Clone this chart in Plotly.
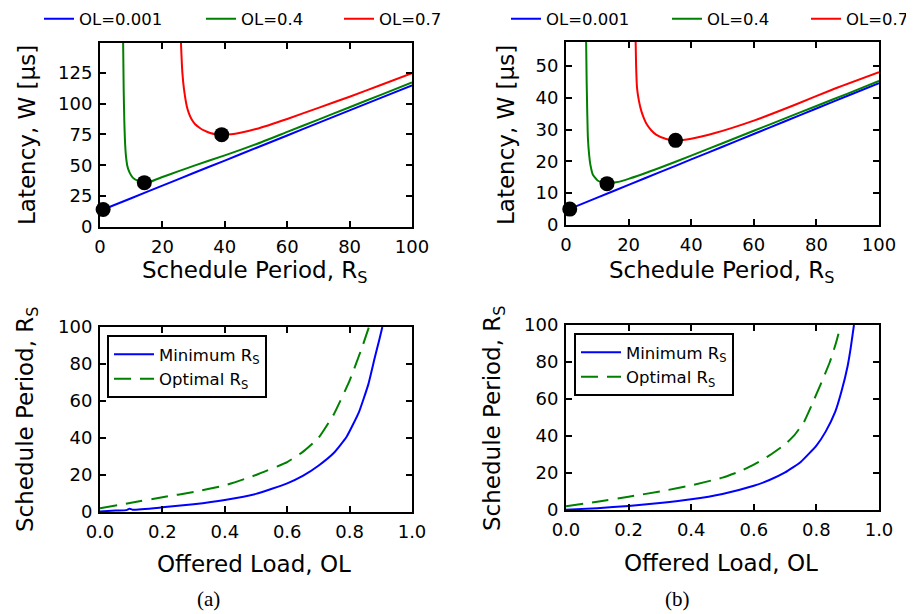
import plotly.graph_objects as go

# ---------------- data ----------------
# (a) top: latency W [us] vs schedule period R_S
a_blue_R = [1, 10, 20, 30, 40, 50, 60, 70, 80, 90, 100]
a_blue_W = [14.2, 23.3, 33.5, 43.7, 53.8, 64.0, 74.1, 84.3, 94.4, 104.6, 114.7]
a_green_R = [7.4, 7.6, 7.8, 8.0, 8.3, 8.8, 9.5, 10.5, 12, 14, 16, 20, 25, 30, 40, 50, 60, 70, 80, 90, 100]
a_green_W = [152, 110, 85, 70, 58, 49, 44, 40, 37.5, 36, 36.6, 40.5, 45, 49.5, 58, 67, 77, 87, 97, 107, 117]
a_red_R = [25.9, 26.1, 26.4, 26.9, 27.8, 28.5, 29.4, 30.5, 32, 33.5, 35.3, 37, 39, 42, 45, 50, 60, 70, 80, 90, 100]
a_red_W = [152, 140, 125, 112, 98, 92, 87, 83.2, 80.2, 78, 76.1, 75.2, 74.8, 75.1, 76.3, 79.3, 87.5, 96.5, 105.5, 115, 124.5]
a_opt_R = [1, 14.2, 39]
a_opt_W = [14.2, 35.9, 74.8]

# (b) top
b_blue_R = [1, 10, 20, 30, 40, 50, 60, 70, 80, 90, 100]
b_blue_W = [5.0, 8.6, 12.6, 16.6, 20.6, 24.6, 28.6, 32.6, 36.6, 40.6, 44.6]
b_green_R = [6.4, 6.6, 6.8, 7.0, 7.4, 7.8, 8.6, 10.2, 13.1, 16, 20, 30, 40, 50, 60, 70, 80, 90, 100]
b_green_W = [60, 45, 35, 27.3, 22, 18.9, 15.8, 13.9, 13.0, 13.4, 14.5, 18, 21.8, 25.7, 29.6, 33.5, 37.4, 41.3, 45.3]
b_red_R = [22.2, 22.4, 22.7, 23.3, 24.1, 25, 25.9, 27.3, 28.9, 32, 35, 40, 47.6, 60, 73.2, 85, 100]
b_red_W = [60, 50, 43, 39, 35.7, 33.3, 31.5, 29.7, 28.3, 27, 26.6, 27.1, 28.9, 32.8, 37.8, 42.5, 48.0]
b_opt_R = [1.2, 13.1, 35]
b_opt_W = [5.0, 13.0, 26.6]

# (a) bottom: schedule period vs offered load
a_min_OL = [0.0, 0.05, 0.085, 0.095, 0.105, 0.2, 0.3, 0.4, 0.5, 0.6, 0.65, 0.7, 0.75, 0.79, 0.83, 0.86, 0.88, 0.895, 0.905]
a_min_RS = [0.3, 0.8, 1.0, 1.8, 1.2, 2.5, 4.2, 6.5, 9.8, 15.5, 19.5, 25, 32, 40.5, 54, 69, 83, 93, 100]
a_optl_OL = [0.0, 0.1, 0.2, 0.3, 0.4, 0.5, 0.6, 0.65, 0.7, 0.75, 0.8, 0.84, 0.862]
a_optl_RS = [2, 5, 8, 10.8, 14.4, 20, 27, 32.5, 40, 53, 71, 89, 100]

# (b) bottom
b_min_OL = [0.0, 0.1, 0.2, 0.3, 0.4, 0.5, 0.6, 0.65, 0.7, 0.75, 0.8, 0.83, 0.86, 0.88, 0.9, 0.91, 0.92]
b_min_RS = [0.2, 1.0, 2.2, 3.8, 5.8, 8.7, 13.1, 16.2, 20.3, 26, 34.8, 42.5, 53, 64, 78, 88, 100]
b_optl_OL = [0.0, 0.1, 0.2, 0.3, 0.4, 0.5, 0.55, 0.6, 0.65, 0.7, 0.73, 0.76, 0.787, 0.815, 0.843, 0.862, 0.878]
b_optl_RS = [2, 4.5, 7.2, 10, 13.3, 17.5, 20.5, 24.5, 29.5, 35.5, 40.5, 47.5, 57.5, 68.5, 80, 90, 100]

series_names = ["OL=0.001", "OL=0.4", "OL=0.7"]
series_colors = ["#0000ff", "#008000", "#ff0000"]
bottom_names = ["Minimum R<sub>S</sub>", "Optimal R<sub>S</sub>"]

FONT = "DejaVu Sans"
# the page body has an 8px margin, so the figure is 906x606 drawn at (8, 8)
OFF = 8
W, H = 914 - OFF, 614 - OFF

def px_x(v):
    return (v - OFF) / W

def px_y(v):
    return 1 - (v - OFF) / H

fig = go.Figure()

def add_top(xs, ys, opt_x, opt_y, xa, ya, legs):
    for (x, y), name, col, leg in zip(zip(xs, ys), series_names, series_colors, legs):
        fig.add_trace(go.Scatter(x=x, y=y, mode="lines", name=name,
                                 line=dict(color=col, width=2, shape="spline", smoothing=0.5),
                                 xaxis=xa, yaxis=ya, legend=leg))
    fig.add_trace(go.Scatter(x=opt_x, y=opt_y, mode="markers", showlegend=False,
                             marker=dict(color="black", size=15),
                             cliponaxis=False, xaxis=xa, yaxis=ya))

add_top([a_blue_R, a_green_R, a_red_R], [a_blue_W, a_green_W, a_red_W],
        a_opt_R, a_opt_W, "x", "y", ["legend", "legend2", "legend3"])
add_top([b_blue_R, b_green_R, b_red_R], [b_blue_W, b_green_W, b_red_W],
        b_opt_R, b_opt_W, "x2", "y2", ["legend4", "legend5", "legend6"])

def add_bottom(mx, my, ox, oy, xa, ya, leg):
    fig.add_trace(go.Scatter(x=mx, y=my, mode="lines", name=bottom_names[0],
                             line=dict(color="#0000ff", width=2, shape="spline", smoothing=0.4),
                             xaxis=xa, yaxis=ya, legend=leg))
    fig.add_trace(go.Scatter(x=ox, y=oy, mode="lines", name=bottom_names[1],
                             line=dict(color="#008000", width=2, dash="17px,9px",
                                       shape="spline", smoothing=0.4),
                             xaxis=xa, yaxis=ya, legend=leg))

add_bottom(a_min_OL, a_min_RS, a_optl_OL, a_optl_RS, "x3", "y3", "legend7")
add_bottom(b_min_OL, b_min_RS, b_optl_OL, b_optl_RS, "x4", "y4", "legend8")

axis_common = dict(showline=True, linewidth=2, linecolor="black", mirror="allticks",
                   ticks="inside", ticklen=6, tickwidth=1.5, tickcolor="black",
                   showgrid=False, zeroline=False, automargin=False,
                   tickfont=dict(family=FONT, size=18, color="black"))
xax = dict(ticklabelstandoff=2, **axis_common)
yax = dict(ticklabelstandoff=2, **axis_common)

L_dom = [px_x(100), px_x(412)]
R_dom = [px_x(566), px_x(879)]

fig.update_layout(
    width=W, height=H, margin=dict(l=0, r=0, t=0, b=0, autoexpand=False),
    paper_bgcolor="white", plot_bgcolor="white",
    font=dict(family=FONT, color="black"),
    xaxis=dict(domain=L_dom, anchor="y", range=[0, 100], tickvals=[0, 20, 40, 60, 80, 100], **xax),
    yaxis=dict(domain=[px_y(227), px_y(43)], anchor="x", range=[0, 149],
               tickvals=[0, 25, 50, 75, 100, 125], **yax),
    xaxis2=dict(domain=R_dom, anchor="y2", range=[0, 100], tickvals=[0, 20, 40, 60, 80, 100], **xax),
    yaxis2=dict(domain=[px_y(225), px_y(42)], anchor="x2", range=[0, 57.5],
                tickvals=[0, 10, 20, 30, 40, 50], **yax),
    xaxis3=dict(domain=L_dom, anchor="y3", range=[0, 1], tickvals=[0, 0.2, 0.4, 0.6, 0.8, 1.0],
                tickformat=".1f", **xax),
    yaxis3=dict(domain=[px_y(512), px_y(327)], anchor="x3", range=[0, 100],
                tickvals=[0, 20, 40, 60, 80, 100], **yax),
    xaxis4=dict(domain=R_dom, anchor="y4", range=[0, 1], tickvals=[0, 0.2, 0.4, 0.6, 0.8, 1.0],
                tickformat=".1f", **xax),
    yaxis4=dict(domain=[px_y(510), px_y(325)], anchor="x4", range=[0, 100],
                tickvals=[0, 20, 40, 60, 80, 100], **yax),
)

# one legend per top entry so each sits where the reference has it
top_leg = dict(orientation="h", yanchor="middle", xanchor="left", y=px_y(19),
               font=dict(family=FONT, size=16.5, color="black"),
               bgcolor="rgba(0,0,0,0)", itemwidth=30)
top_leg_x = [39, 201, 339, 506, 667, 806]
fig.update_layout(**{("legend" if i == 0 else f"legend{i+1}"): dict(x=px_x(xp), **top_leg)
                     for i, xp in enumerate(top_leg_x)})

bot_leg = dict(orientation="v", yanchor="top", xanchor="left",
               font=dict(family=FONT, size=16.5, color="black"),
               bgcolor="white", bordercolor="black", borderwidth=2, itemwidth=40)
fig.update_layout(legend7=dict(x=px_x(107), y=px_y(335), **bot_leg),
                  legend8=dict(x=px_x(574), y=px_y(333), **bot_leg))

# axis titles and captions
TITLE = dict(family=FONT, size=23, color="black")
ann = [
    dict(text="Latency, W [µs]", x=px_x(27), y=px_y(135), textangle=-90),
    dict(text="Schedule Period, R<sub>S</sub>", x=px_x(255), y=px_y(272), textangle=0),
    dict(text="Latency, W [µs]", x=px_x(506), y=px_y(135), textangle=-90),
    dict(text="Schedule Period, R<sub>S</sub>", x=px_x(722), y=px_y(272), textangle=0),
    dict(text="Schedule Period, R<sub>S</sub>", x=px_x(27), y=px_y(419), textangle=-90),
    dict(text="Offered Load, OL", x=px_x(254), y=px_y(564), textangle=0),
    dict(text="Schedule Period, R<sub>S</sub>", x=px_x(494), y=px_y(418), textangle=-90),
    dict(text="Offered Load, OL", x=px_x(721), y=px_y(563), textangle=0),
]
for a in ann:
    fig.add_annotation(xref="paper", yref="paper", showarrow=False,
                       xanchor="center", yanchor="middle", font=TITLE, **a)

for txt, cx in [("(a)", 208), ("(b)", 677)]:
    fig.add_annotation(xref="paper", yref="paper", showarrow=False, text=txt,
                       x=px_x(cx), y=px_y(599), xanchor="center", yanchor="middle",
                       font=dict(family="Liberation Serif", size=21, color="black"))

fig.write_html("out.html")
